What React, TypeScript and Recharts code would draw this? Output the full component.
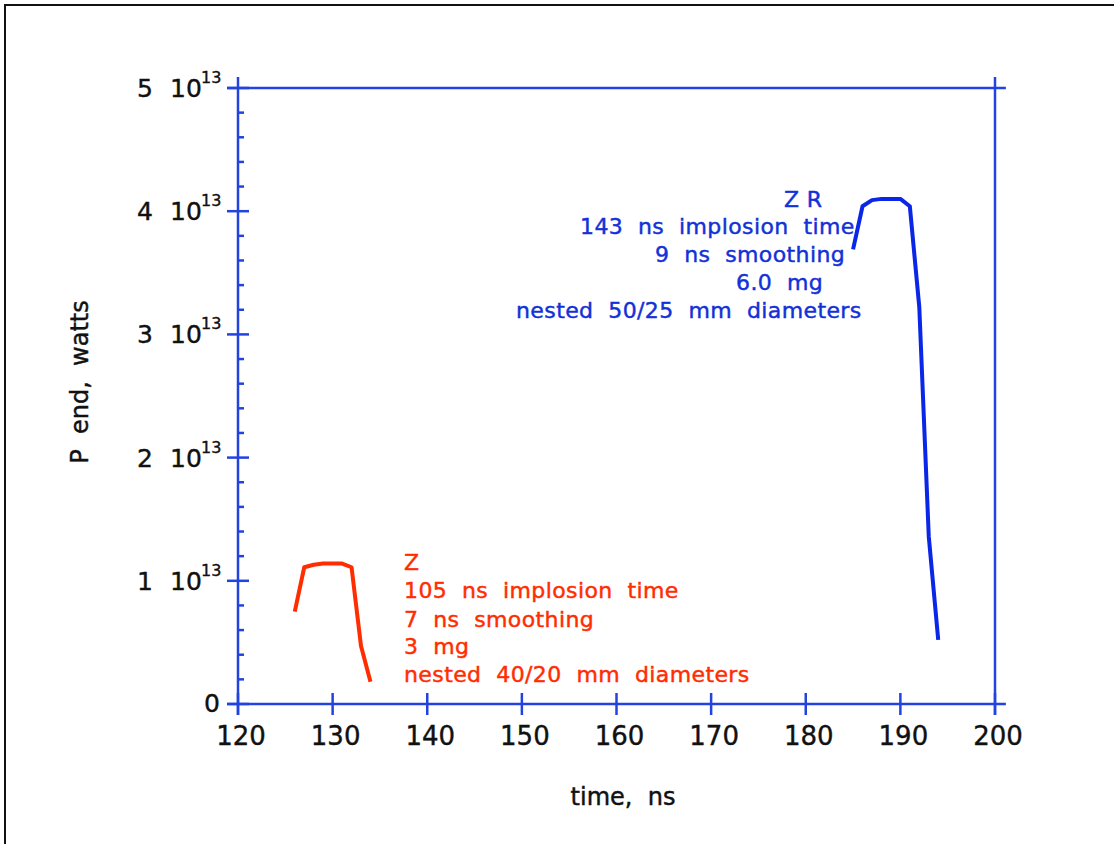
import { LineChart, Line, XAxis, YAxis, ReferenceLine } from 'recharts';

// Z machine pulse: end power (W) vs time (ns)
const zTime = [126, 127, 128, 129, 130, 131, 132, 133, 134];
const zPower = [0.75e13, 1.11e13, 1.13e13, 1.14e13, 1.14e13, 1.14e13, 1.11e13, 0.47e13, 0.18e13];

// ZR pulse
const zrTime = [185, 186, 187, 188, 189, 190, 191, 192, 193, 194];
const zrPower = [3.69e13, 4.04e13, 4.09e13, 4.1e13, 4.1e13, 4.1e13, 4.04e13, 3.22e13, 1.36e13, 0.52e13];

const timeTicks = [120, 130, 140, 150, 160, 170, 180, 190, 200];
// every 0.2 10^13, labelled every 10^13
const powerTicks = Array.from({ length: 26 }, (_, i) => i * 2e12);

const zNotes = ['Z', '105  ns  implosion  time', '7  ns  smoothing', '3  mg', 'nested  40/20  mm  diameters'];
const zrNotes = ['Z R', '143  ns  implosion  time', '9  ns  smoothing', '6.0  mg', 'nested  50/25  mm  diameters'];

const zSeries = zTime.map((t, i) => ({ t, p: zPower[i] }));
const zrSeries = zrTime.map((t, i) => ({ t, p: zrPower[i] }));

const AXIS = '#2343e0';
const BLUE = '#0a26e6';
const BLUE_TEXT = '#1231d8';
const RED = '#ff2d00';
const INK = '#111';
const FONT = '"DejaVu Sans", sans-serif';

// keep the doubled spaces between words
const keepSpaces = (s: string) => s.replace(/ /g, '\u00a0');

const isMajor = (v: number) => Math.round(v / 2e12) % 5 === 0;

const BottomTick = ({ x, y, payload }: any) => (
  <g>
    <line x1={x} x2={x} y1={y - 11} y2={y + 11} stroke={AXIS} strokeWidth={2.5} />
    <text x={x + 3} y={y + 41} textAnchor="middle" fontSize={26} fontFamily={FONT} fill={INK} stroke={INK} strokeWidth={0.4}>
      {payload.value}
    </text>
  </g>
);

const TopTick = ({ x, y }: any) => (
  <line x1={x} x2={x} y1={y - 11} y2={y + 11} stroke={AXIS} strokeWidth={2.5} />
);

const LeftTick = ({ x, y, payload }: any) => {
  const v = payload.value as number;
  if (!isMajor(v)) {
    return <line x1={x} x2={x + 6} y1={y} y2={y} stroke={AXIS} strokeWidth={2.5} />;
  }
  const n = Math.round(v / 1e13);
  return (
    <g>
      <line x1={x - 11} x2={x + 11} y1={y} y2={y} stroke={AXIS} strokeWidth={2.5} />
      <g fontFamily={FONT} fill={INK} stroke={INK} strokeWidth={0.4}>
        {n === 0 ? (
          <text x={x - 18} y={y + 8} textAnchor="end" fontSize={25}>0</text>
        ) : (
          <>
            <text x={x - 85} y={y + 9} textAnchor="end" fontSize={25}>{n}</text>
            <text x={x - 68} y={y + 9} fontSize={25}>10</text>
            <text x={x - 37} y={y - 5} fontSize={16}>13</text>
          </>
        )}
      </g>
    </g>
  );
};

const RightTick = ({ x, y, payload }: any) => {
  const v = payload.value as number;
  return isMajor(v) ? (
    <line x1={x - 11} x2={x + 11} y1={y} y2={y} stroke={AXIS} strokeWidth={2.5} />
  ) : (
    <line x1={x - 6} x2={x} y1={y} y2={y} stroke={AXIS} strokeWidth={2.5} />
  );
};

const zLines = [570, 598, 626.5, 654, 681.5];
const zrPlace = [
  [784, 206.5],
  [580, 234],
  [655, 261.5],
  [736, 290],
  [516, 317.5],
];

export default function App() {
  return (
    <div style={{ position: 'fixed', left: 0, top: 0, width: 1114, height: 844, overflow: 'hidden', background: '#fff' }}>
      <div
        style={{
          position: 'absolute',
          left: 4,
          top: 4,
          width: 1200,
          height: 1000,
          borderTop: '2px solid #111',
          borderLeft: '2px solid #111',
        }}
      />
      <LineChart
        width={1114}
        height={844}
        margin={{ top: 58, right: 59, bottom: 110, left: 178 }}
        style={{ position: 'absolute', left: 0, top: 0 }}
      >
        <XAxis
          dataKey="t"
          type="number"
          domain={[120, 200]}
          ticks={timeTicks}
          interval={0}
          height={30}
          tickSize={0}
          tickMargin={0}
          axisLine={false}
          tickLine={false}
          tick={BottomTick}
        />
        <XAxis
          xAxisId="top"
          orientation="top"
          dataKey="t"
          type="number"
          domain={[120, 200]}
          ticks={timeTicks}
          interval={0}
          height={30}
          tickSize={0}
          tickMargin={0}
          axisLine={false}
          tickLine={false}
          tick={TopTick}
        />
        <YAxis
          type="number"
          domain={[0, 5e13]}
          ticks={powerTicks}
          interval={0}
          width={60}
          tickSize={0}
          tickMargin={0}
          axisLine={false}
          tickLine={false}
          tick={LeftTick}
        />
        <YAxis
          yAxisId="right"
          orientation="right"
          type="number"
          domain={[0, 5e13]}
          ticks={powerTicks}
          interval={0}
          width={60}
          tickSize={0}
          tickMargin={0}
          axisLine={false}
          tickLine={false}
          tick={RightTick}
        />
        {/* plot frame, drawn a little past the corners */}
        <ReferenceLine segment={[{ x: 118.85, y: 0 }, { x: 201.15, y: 0 }]} stroke={AXIS} strokeWidth={2.5} ifOverflow="visible" />
        <ReferenceLine segment={[{ x: 118.85, y: 5e13 }, { x: 201.15, y: 5e13 }]} stroke={AXIS} strokeWidth={2.5} ifOverflow="visible" />
        <ReferenceLine segment={[{ x: 120, y: -0.09e13 }, { x: 120, y: 5.09e13 }]} stroke={AXIS} strokeWidth={2.5} ifOverflow="visible" />
        <ReferenceLine segment={[{ x: 200, y: -0.09e13 }, { x: 200, y: 5.09e13 }]} stroke={AXIS} strokeWidth={2.5} ifOverflow="visible" />
        <Line data={zSeries} dataKey="p" stroke={RED} strokeWidth={4} dot={false} isAnimationActive={false} strokeLinejoin="round" />
        <Line data={zrSeries} dataKey="p" stroke={BLUE} strokeWidth={4} dot={false} isAnimationActive={false} strokeLinejoin="round" />
      </LineChart>
      <svg width={1114} height={844} style={{ position: 'absolute', left: 0, top: 0, pointerEvents: 'none' }}>
        <g fontFamily={FONT} fontSize={22} strokeWidth={0.45} letterSpacing={0.4}>
          {zNotes.map((s, i) => (
            <text key={s} x={404} y={zLines[i]} fill={RED} stroke={RED}>{keepSpaces(s)}</text>
          ))}
          {zrNotes.map((s, i) => (
            <text key={s} x={zrPlace[i][0]} y={zrPlace[i][1]} fill={BLUE_TEXT} stroke={BLUE_TEXT}>{keepSpaces(s)}</text>
          ))}
        </g>
        <g fontFamily={FONT} fontSize={24} fill={INK} stroke={INK} strokeWidth={0.45}>
          <text x={623} y={805} textAnchor="middle">{keepSpaces('time,  ns')}</text>
          <text x={88} y={382} textAnchor="middle" transform="rotate(-90 88 382)">{keepSpaces('P  end,  watts')}</text>
        </g>
      </svg>
    </div>
  );
}
